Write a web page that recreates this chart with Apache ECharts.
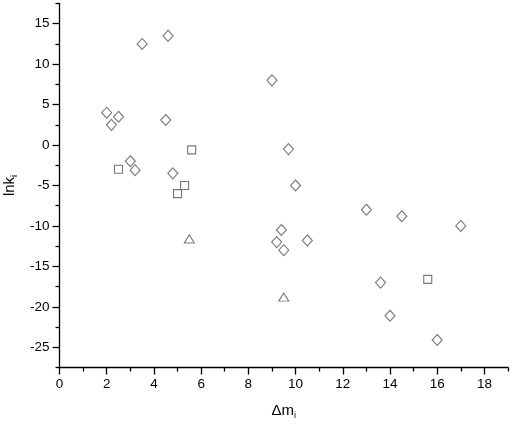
<!DOCTYPE html>
<html><head><meta charset="utf-8">
<script src="https://cdn.jsdelivr.net/npm/echarts@6/dist/echarts.min.js"></script>
<style>html,body{margin:0;padding:0;background:#fff}#c{width:512px;height:426px}</style>
</head><body><div id="c"></div>
<script>
var diamondX = [2.0, 2.2, 2.5, 3.5, 4.6, 4.5, 3.0, 3.2, 4.8, 9.0, 9.7, 10.0, 13.0, 14.5, 17.0, 9.4, 9.2, 9.5, 10.5, 13.6, 14.0, 16.0];
var diamondY = [4.0, 2.5, 3.5, 12.5, 13.5, 3.1, -2.0, -3.1, -3.5, 8.0, -0.5, -5.0, -8.0, -8.8, -10.0, -10.5, -12.0, -13.0, -11.8, -17.0, -21.1, -24.1];
var squareX = [2.5, 5.6, 5.3, 5.0, 15.6];
var squareY = [-3.0, -0.6, -5.0, -6.0, -16.6];
var triangleX = [5.5, 9.5];
var triangleY = [-11.6, -18.8];
var xMajorTicks = [0, 2, 4, 6, 8, 10, 12, 14, 16, 18];
var xMinorTicks = [1, 3, 5, 7, 9, 11, 13, 15, 17, 19];
var yMajorTicks = [-25, -20, -15, -10, -5, 0, 5, 10, 15];
var yMinorTicks = [-27.5, -22.5, -17.5, -12.5, -7.5, -2.5, 2.5, 7.5, 12.5, 17.5];

function pairs(xs, ys) { return xs.map(function (x, i) { return [x, ys[i]]; }); }

var font = 'Liberation Sans, Arial, sans-serif';
var chart = echarts.init(document.getElementById('c'), null, {renderer: 'canvas'});
var lineStyle = {color: '#000', width: 1.3};
var markerStyle = {color: '#fff', borderColor: '#555', borderWidth: 1.1};
chart.setOption({
  animation: false,
  backgroundColor: '#fff',
  grid: {left: 59.5, right: 4, top: 3.5, bottom: 58.5, containLabel: false, outerBoundsMode: 'none'},
  xAxis: [{
    type: 'value', min: 0, max: 19, position: 'bottom',
    axisLine: {show: true, onZero: false, lineStyle: lineStyle},
    axisTick: {show: true, customValues: xMajorTicks, length: 7, lineStyle: lineStyle},
    axisLabel: {customValues: xMajorTicks, color: '#000', fontSize: 13.5, fontFamily: font, margin: 10},
    splitLine: {show: false},
    name: '{a|Δm}{s|i}', nameLocation: 'middle', nameGap: 34,
    nameTextStyle: {rich: {a: {fontSize: 15, fontFamily: font, color: '#000'}, s: {fontSize: 9, fontFamily: font, color: '#000', verticalAlign: 'bottom', padding: [10, 0, 0, 0]}}}
  }, {
    type: 'value', min: 0, max: 19, position: 'bottom',
    axisLine: {show: false, onZero: false},
    axisTick: {show: true, customValues: xMinorTicks, length: 4, lineStyle: lineStyle},
    axisLabel: {show: false},
    splitLine: {show: false}
  }],
  yAxis: [{
    type: 'value', min: -27.5, max: 17.5, position: 'left',
    axisLine: {show: true, onZero: false, lineStyle: lineStyle},
    axisTick: {show: true, customValues: yMajorTicks, length: 7, lineStyle: lineStyle},
    axisLabel: {customValues: yMajorTicks, color: '#000', fontSize: 13.5, fontFamily: font, margin: 10},
    splitLine: {show: false},
    name: '{a|lnk}{s|i}', nameLocation: 'middle', nameGap: 37, nameRotate: 90,
    nameTextStyle: {rich: {a: {fontSize: 15, fontFamily: font, color: '#000'}, s: {fontSize: 9, fontFamily: font, color: '#000', verticalAlign: 'bottom', padding: [10, 0, 0, 0]}}}
  }, {
    type: 'value', min: -27.5, max: 17.5, position: 'left',
    axisLine: {show: false, onZero: false},
    axisTick: {show: true, customValues: yMinorTicks, length: 4, lineStyle: lineStyle},
    axisLabel: {show: false},
    splitLine: {show: false}
  }],
  series: [{
    type: 'scatter', symbol: 'diamond', symbolSize: [10, 11], itemStyle: markerStyle,
    data: pairs(diamondX, diamondY)
  }, {
    type: 'scatter', symbol: 'rect', symbolSize: 8, itemStyle: markerStyle,
    data: pairs(squareX, squareY)
  }, {
    type: 'scatter', symbol: 'triangle', symbolSize: [10, 8], itemStyle: markerStyle,
    data: pairs(triangleX, triangleY)
  }]
});
</script></body></html>
